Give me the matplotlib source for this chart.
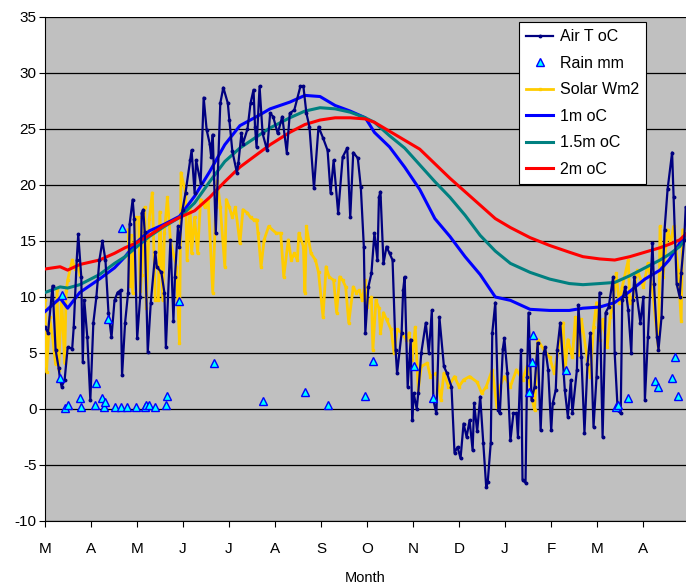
import matplotlib
matplotlib.use('Agg')
import matplotlib.pyplot as plt
import numpy as np

# days counted from 1 March
month_labels = ['M', 'A', 'M', 'J', 'J', 'A', 'S', 'O', 'N', 'D', 'J', 'F', 'M', 'A']

air_days = [0, 2, 5, 7, 9, 10, 11, 13, 15, 18, 19, 21, 22, 24, 25, 26, 28, 30, 32, 34,
            36, 38, 40, 42, 44, 46, 48, 50, 51, 53, 55, 56, 58, 59, 61, 63, 64, 65, 66, 68,
            70, 73, 74, 77, 79, 80, 83, 85, 86, 88, 89, 91, 93, 96, 97, 99, 100, 103, 105, 107,
            109, 110, 111, 113, 116, 118, 121, 122, 124, 127, 128, 130, 131, 134, 136, 138, 139, 140, 142, 144,
            147, 149, 151, 154, 157, 160, 162, 165, 169, 171, 173, 175, 178, 181, 184, 187, 189, 191, 194, 197,
            200, 202, 204, 207, 209, 211, 212, 214, 216, 218, 220, 221, 222, 224, 226, 228, 230, 232, 233, 236,
            237, 238, 240, 242, 243, 244, 246, 247, 249, 252, 254, 256, 257, 259, 261, 264, 266, 269, 271, 273,
            275, 277, 279, 281, 283, 284, 286, 288, 290, 292, 293, 295, 296, 298, 300, 301, 303, 304, 306, 308,
            310, 312, 313, 315, 316, 318, 319, 320, 322, 324, 326, 328, 330, 331, 333, 335, 336, 338, 339, 341,
            344, 346, 348, 349, 352, 353, 355, 357, 359, 361, 363, 365, 367, 369, 371, 373, 376, 377, 379, 381,
            382, 384, 386, 388, 389, 390, 394, 396, 397, 399, 402, 403, 405, 406, 408, 410, 412, 415, 416, 418,
            420, 421, 423, 424]
air_temp = [7.3, 6.8, 11.0, 5.3, 3.7, 2.6, 2.0, 2.6, 5.5, 5.4, 7.3, 13.3, 15.6, 11.8, 4.2, 9.7, 6.4, 0.8, 7.7, 10.0,
            13.3, 15.0, 13.3, 8.6, 6.4, 9.7, 10.4, 10.6, 3.0, 7.7, 10.4, 16.5, 18.7, 17.0, 6.3, 10.0, 17.5, 17.8, 15.8, 5.1,
            9.5, 14.0, 12.7, 12.2, 10.4, 5.5, 15.1, 7.9, 11.8, 16.3, 14.5, 17.8, 19.3, 22.2, 23.1, 19.3, 22.2, 20.2, 27.8, 24.9,
            23.7, 22.5, 24.5, 15.7, 27.3, 28.7, 27.3, 25.8, 23.0, 21.1, 22.0, 24.6, 23.7, 25.0, 27.3, 28.5, 25.2, 23.4, 28.8, 24.6,
            23.1, 26.4, 26.1, 24.6, 26.1, 22.9, 26.4, 26.7, 28.8, 28.8, 26.4, 25.2, 19.7, 25.2, 24.2, 23.1, 19.3, 22.2, 17.5, 22.5,
            23.3, 17.1, 22.9, 22.4, 19.8, 14.5, 6.8, 10.9, 12.1, 15.7, 13.3, 18.9, 19.4, 13.0, 14.5, 13.9, 13.3, 5.3, 3.2, 6.8,
            10.6, 11.8, 2.0, 6.2, -1.0, 1.4, 0.0, 1.4, 5.0, 7.7, 5.0, 8.8, 0.8, -0.4, 8.2, 3.8, 3.2, 2.0, -3.9, -3.4,
            -4.4, -1.3, -2.5, -1.0, -3.7, 0.5, -2.0, 1.1, -3.0, -7.0, -6.5, -3.0, 6.8, 9.5, -0.1, -0.4, 5.4, 6.3, 3.2, -2.8,
            -0.4, -0.4, -2.5, 5.3, -6.3, -6.6, 2.9, 8.6, 0.8, 2.0, 5.9, -1.9, 5.0, 5.5, 3.5, -1.9, 0.5, 1.7, 5.3, 7.7,
            1.7, -0.7, 2.6, -0.4, 3.5, 9.3, 4.6, -2.1, 4.0, 6.8, -1.6, 2.9, 10.4, -2.5, 8.6, 9.1, 11.8, 5.0, -0.1, -0.4,
            9.7, 10.9, 8.8, 5.0, 9.7, 11.8, 7.7, 10.0, 0.8, 6.4, 14.8, 11.2, 6.4, 5.3, 8.2, 16.0, 19.6, 22.9, 18.9, 11.2,
            10.0, 12.1, 15.1, 18.0]

rain_days = [10, 11, 13, 15, 23, 24, 33, 34, 38, 39, 40, 42, 46, 50, 51, 54, 60, 66, 67, 69,
             73, 80, 81, 89, 112, 144, 172, 187, 212, 217, 244, 257, 320, 322, 323, 345, 378, 379, 386, 404,
             406, 415, 417, 419]
rain_mm = [2.8, 10.2, 0.1, 0.4, 1.0, 0.2, 0.4, 2.3, 1.0, 0.2, 0.6, 8.0, 0.2, 0.2, 16.2, 0.2, 0.2, 0.2, 0.4, 0.4,
           0.2, 0.4, 1.2, 9.6, 4.1, 0.7, 1.5, 0.4, 1.2, 4.3, 3.8, 1.0, 1.5, 4.2, 6.6, 3.5, 0.2, 0.4, 1.0, 2.5,
           2.0, 2.8, 4.6, 1.2]

solar_days = [0, 1, 3, 5, 7, 8, 9, 11, 13, 14, 15, 18, 20, 22, 23, 40,
              55, 56, 57, 58, 60, 62, 63, 64, 66, 67, 69, 71, 73, 75, 76, 78, 79, 81, 83, 86,
              87, 89, 90, 93, 94, 96, 97, 99, 101, 103, 106, 108, 111, 113, 114, 116, 119, 120, 122, 124,
              126, 129, 131, 134, 136, 138, 140, 141, 143, 145, 148, 153, 156, 158, 161, 163, 165, 167, 168, 171,
              172, 173, 176, 179, 181, 184, 186, 188, 191, 193, 195, 197, 199, 201, 204, 206, 208, 210, 212, 213,
              216, 217, 219, 221, 222, 224, 226, 229, 231, 233, 236, 239, 241, 243, 245, 247, 249, 253, 255, 259,
              262, 264, 267, 271, 274, 277, 281, 286, 289, 292, 296, 299, 301, 304, 308, 312, 316, 319, 322, 324,
              326, 330, 334, 337, 341, 343, 344, 346, 349, 351, 353, 355, 359, 361, 363, 365, 367, 369, 372, 374,
              376, 378, 380, 382, 386, 387, 389, 392, 396, 399, 402, 406, 407, 409, 412, 414, 416, 419, 421, 422,
              424]
solar_vals = [9.7, 3.3, 8.2, 6.4, 4.0, 10.6, 3.5, 10.0, 4.1, 10.5, 11.5, 13.3, 12.5, 12.7, 12.0, np.nan,
              16.0, 11.0, 15.5, 10.4, 17.1, 17.1, 10.5, 12.0, 18.0, 9.0, 17.0, 19.3, 9.7, 9.7, 17.6, 9.7, 15.7, 18.9, 15.0, 13.3,
              12.7, 5.9, 21.1, 19.3, 13.3, 18.0, 13.9, 17.1, 13.9, 18.7, 18.0, 18.7, 10.4, 18.0, 20.4, 18.0, 12.7, 18.7, 18.0, 17.1,
              18.0, 14.8, 17.8, 17.5, 17.1, 16.9, 16.9, 15.7, 12.7, 15.1, 16.3, 15.7, 15.7, 11.8, 15.1, 13.3, 13.9, 13.3, 15.7, 14.5,
              10.4, 16.3, 13.9, 13.3, 12.2, 8.2, 12.7, 11.8, 11.5, 8.6, 11.8, 11.5, 10.9, 7.7, 10.9, 10.4, 10.6, 9.7, 11.5, 9.1,
              10.0, 5.3, 9.7, 9.0, 6.8, 8.6, 8.0, 7.1, 5.0, 7.1, 6.8, 6.2, 6.8, 4.4, 7.3, 1.7, 3.8, 4.1, 2.9, 3.2,
              0.8, 3.2, 2.0, 2.9, 2.0, 2.6, 2.9, 2.4, 1.4, 2.0, 3.5, 0.2, 2.0, 2.9, 2.0, 3.5, 2.6, 3.8, 1.1, -0.1,
              6.2, 5.3, 4.6, 3.2, 6.4, 7.7, 3.2, 6.2, 4.6, 8.2, 4.8, 8.0, 4.4, 2.9, 7.3, 9.5, 6.2, 8.0, 5.5, 8.2,
              9.5, 12.1, 9.5, 10.9, 13.3, 9.5, 10.0, 12.4, 10.9, 13.0, 10.7, 5.3, 16.3, 11.8, 16.0, 14.8, 16.3, 12.4, 7.9, 16.0,
              15.1]

soil_days = [0, 10, 15, 23, 36, 46, 53, 60, 69, 79, 89, 99, 109, 119, 129, 140, 149, 162, 172, 182,
             192, 202, 212, 218, 228, 238, 248, 258, 268, 278, 288, 298, 308, 321, 334, 347, 356, 367, 377, 387,
             397, 407, 413, 420, 424]
soil_1m = [8.7, 9.9, 9.0, 10.4, 11.6, 12.6, 13.6, 14.8, 15.9, 16.5, 17.2, 19.0, 21.2, 23.6, 25.3, 26.1, 26.8, 27.4, 28.0, 27.9,
           27.1, 26.6, 26.0, 24.7, 23.4, 21.6, 19.6, 17.0, 15.4, 13.6, 12.0, 10.0, 9.7, 8.9, 8.8, 8.8, 9.0, 9.1, 9.5, 10.5,
           11.6, 12.4, 13.3, 14.8, 15.6]
soil_15m = [10.4, 10.9, 10.8, 11.1, 12.0, 13.0, 13.6, 14.4, 15.4, 16.3, 17.1, 18.4, 20.3, 22.1, 23.3, 24.3, 25.1, 26.0, 26.6, 26.9,
            26.8, 26.5, 26.0, 25.6, 24.4, 23.3, 21.8, 20.3, 18.9, 17.3, 15.5, 14.1, 13.0, 12.2, 11.6, 11.2, 11.1, 11.2, 11.3, 11.9,
            12.6, 13.3, 13.8, 14.5, 15.2]
soil_2m = [12.5, 12.7, 12.4, 12.9, 13.3, 13.9, 14.4, 14.8, 15.5, 16.4, 17.1, 17.7, 18.9, 20.3, 21.6, 22.7, 23.6, 24.7, 25.4, 25.8,
           26.0, 26.0, 25.9, 25.6, 24.8, 24.0, 23.2, 21.9, 20.6, 19.4, 18.2, 17.0, 16.2, 15.3, 14.6, 14.0, 13.6, 13.4, 13.3, 13.6,
           14.0, 14.4, 14.7, 15.1, 15.6]

plt.rcParams['font.family'] = ['Liberation Sans', 'DejaVu Sans']
plt.rcParams['axes.unicode_minus'] = False

fig = plt.figure(figsize=(6.86, 5.86), dpi=100)
ax = fig.add_axes([45 / 686, 65 / 586, 641 / 686, 504 / 586])
ax.set_facecolor('#C0C0C0')

ax.plot(solar_days, solar_vals, color='#FFCC00', lw=2, marker='s', ms=1.5, label='Solar Wm2', zorder=3)
ax.plot(soil_days, soil_1m, color='#0000FF', lw=2.2, label='1m oC', zorder=4)
ax.plot(soil_days, soil_15m, color='#008080', lw=2.2, label='1.5m oC', zorder=4)
ax.plot(soil_days, soil_2m, color='#FF0000', lw=2.2, label='2m oC', zorder=4)
ax.plot(air_days, air_temp, color='#000080', lw=1.6, marker='o', ms=1.8, label='Air T oC', zorder=5)
ax.plot(rain_days, rain_mm, ls='none', marker='^', ms=5.5, mfc='#00FFFF', mec='#0000FF', mew=1,
        label='Rain mm', zorder=6)

ax.set_ylim(-10, 35)
ax.set_yticks(range(-10, 36, 5))
ax.set_xlim(0, 424.2)
ax.set_xticks([i * 30.44 for i in range(len(month_labels))])
ax.set_xticklabels(month_labels)
ax.yaxis.grid(True, color='black', lw=0.9)
ax.set_axisbelow(True)
for s in ['top', 'right']:
    ax.spines[s].set_visible(False)
ax.tick_params(axis='y', labelsize=11, length=4, pad=2)
ax.tick_params(axis='x', labelsize=11, length=4, pad=11)
ax.set_xlabel('Month', fontsize=10.5, labelpad=11)

h, l = ax.get_legend_handles_labels()
order = ['Air T oC', 'Rain mm', 'Solar Wm2', '1m oC', '1.5m oC', '2m oC']
hd = dict(zip(l, h))
leg = ax.legend([hd[k] for k in order], order, loc='upper right',
                bbox_to_anchor=(646 / 686, 1 - 22 / 586), bbox_transform=fig.transFigure,
                borderaxespad=0, fontsize=11.5, frameon=True, fancybox=False, framealpha=1,
                edgecolor='black', labelspacing=0.72, handlelength=1.7, handletextpad=0.4,
                borderpad=0.45)
leg.get_frame().set_linewidth(0.8)
leg.set_zorder(10)

fig.savefig('out.png', dpi=100)
